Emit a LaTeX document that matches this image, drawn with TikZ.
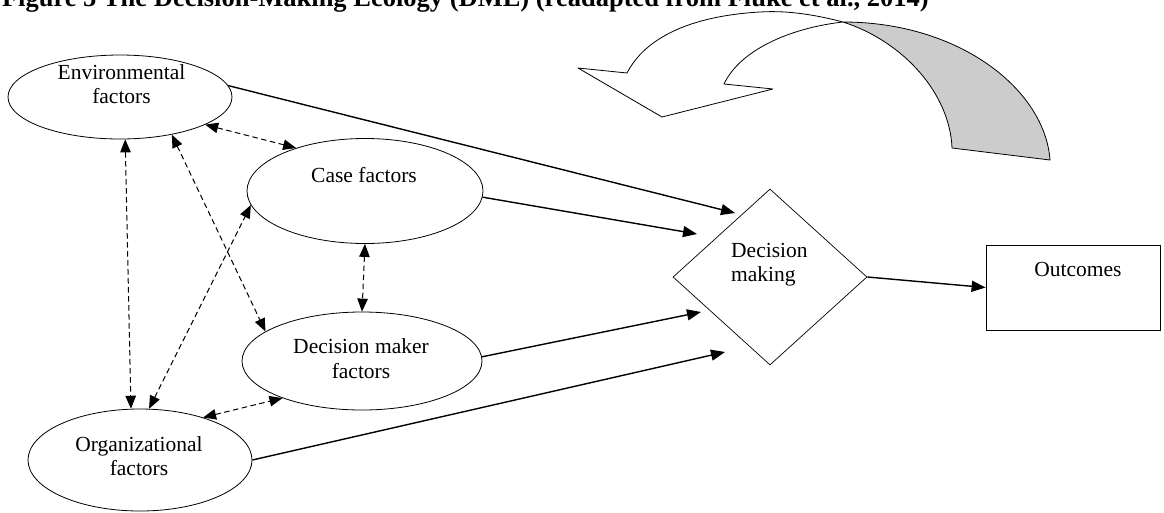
\documentclass[tikz,border=0pt]{standalone}
\usepackage{fontspec}
\setmainfont{Liberation Serif}
\usetikzlibrary{shapes.geometric,arrows.meta}

\begin{document}
\begin{tikzpicture}[x=1pt,y=-1pt,
  every node/.style={font=\fontsize{21.5}{24.5}\selectfont},
  ell/.style={draw, ellipse, line width=0.8pt, inner sep=0pt},
  lbl/.style={align=center, inner sep=0pt},
  flow/.style={line width=1.4pt, -{Triangle[length=14pt,width=11pt]}},
  link/.style={line width=1pt, dash pattern=on 5.5pt off 3.5pt,
    {Triangle[length=13pt,width=10.5pt]}-{Triangle[length=13pt,width=10.5pt]}},
  band/.style={draw, line width=0.8pt, line join=round},
]
\useasboundingbox (0,0) rectangle (1164,512);
\clip (0,0) rectangle (1164,512);

% caption line
\node[anchor=base west, inner sep=0pt, outer sep=0pt, font=\fontsize{26.5}{30}\selectfont\bfseries] (title) at (2,6)
  {Figure 5 The Decision-Making Ecology (DME) (readapted from Fluke et al., 2014)};

% curved feedback arrow: shaded back side first, then the white band
\path[band, fill=black!20] (843,22) .. controls (960,22) and (1045,90) .. (1050,160)
  -- (952,148) .. controls (950,95) and (905,42) .. (843,22) -- cycle;
\path[band, fill=white] (627,73) .. controls (645,38) and (690,16) .. (760,12)
  .. controls (790,10) and (820,16) .. (843,22)
  .. controls (790,28) and (740,50) .. (724,84)
  -- (773,89) -- (662,117) -- (578,68) -- cycle;

% factor ellipses
\node[ell, minimum width=224pt, minimum height=84pt] (env) at (120,97) {};
\node[lbl] (envt) at (121.5,84) {Environmental\\factors};
\node[ell, minimum width=236pt, minimum height=105pt] (case) at (365,191) {};
\node[lbl] (caset) at (364,175.5) {Case factors};
\node[ell, minimum width=240pt, minimum height=98pt] (dm) at (362,361) {};
\node[lbl] (dmt) at (361,358.5) {Decision maker\\factors};
\node[ell, minimum width=224pt, minimum height=102pt] (org) at (140,460) {};
\node[lbl] (orgt) at (139,456) {Organizational\\factors};

% decision and outcome
\node[draw, diamond, aspect=1.1, minimum width=194pt, minimum height=176pt,
  inner sep=0pt, line width=0.7pt] (dec) at (770,277) {};
\node[lbl, align=left, anchor=west] (dect) at (731,264.5) {Decision\\making};
\node[draw, line width=0.8pt, minimum width=174pt, minimum height=85pt, inner sep=0pt] (out) at (1073,287.5) {};
\node[lbl] (outt) at (1078,269) {Outcomes};

% arrow ends in front of the diamond
\coordinate (t1) at (735,213);
\coordinate (t2) at (697,234);
\coordinate (t3) at (701,312);
\coordinate (t4) at (725,352);

% influences on the decision
\draw[flow] (env.6) -- (t1);
\draw[flow] (case.-3) -- (t2);
\draw[flow] (dm.2) -- (t3);
\draw[flow] (org.east) -- (t4);
\draw[flow] (dec.east) -- (out.west);

% mutual links between factors
\draw[link] (env.-18) -- (case.148);
\draw[link] (env.-83) -- (org.100);
\draw[link] (env.-36) -- (dm.163);
\draw[link] (org.80) -- (case.-173);
\draw[link] (case.south) -- (dm.north);
\draw[link] (org.34) -- (dm.-155);
\end{tikzpicture}
\end{document}
